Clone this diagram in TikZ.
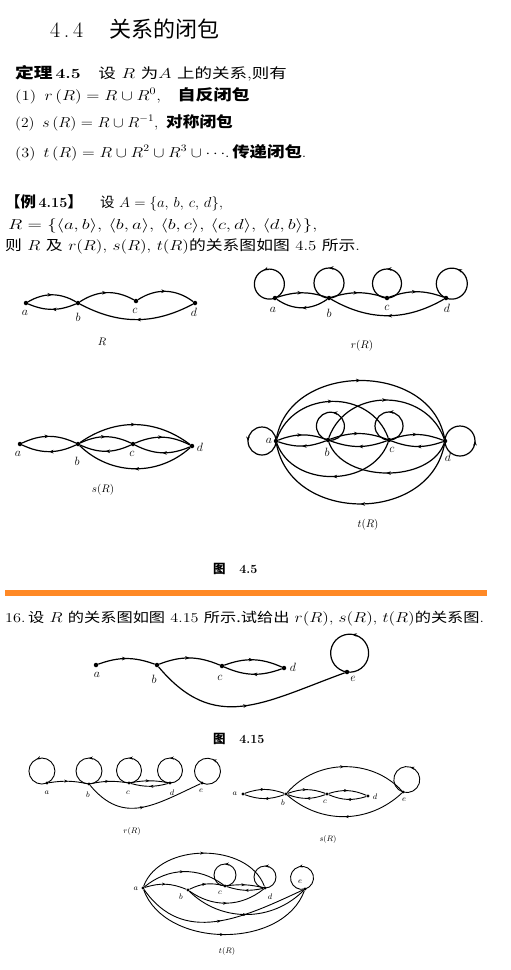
\documentclass[tikz,border=0pt]{standalone}
\usepackage{graphicx}
\usepackage{fontspec}
\newfontfamily\cjk{Noto Sans CJK SC}
\usetikzlibrary{arrows.meta,decorations.markings}
\definecolor{barorange}{RGB}{255,137,38}
\tikzset{
  v/.style={circle,fill,inner sep=0pt,minimum size=4.5pt},
  vs/.style={circle,fill,inner sep=0pt,minimum size=3.2pt},
  e/.style={line width=1.2pt,postaction={decorate},
    decoration={markings,mark=at position 0.5 with {\arrow{Stealth[length=4.5pt,width=3.6pt]}}}},
  es/.style={line width=0.9pt,postaction={decorate},
    decoration={markings,mark=at position 0.5 with {\arrow{Stealth[length=3.8pt,width=3pt]}}}},
  lab/.style={font=\fontsize{12}{12}\selectfont,inner sep=0pt},
  labs/.style={font=\fontsize{8.5}{8.5}\selectfont,inner sep=0pt},
  txt/.style={anchor=base west,inner sep=0pt,font=\fontsize{14}{14}\selectfont},
  capt/.style={inner sep=0pt,font=\fontsize{11}{11}\selectfont},
  capts/.style={inner sep=0pt,font=\fontsize{8.5}{8.5}\selectfont},
}
\newcommand{\bz}[1]{{\cjk\bfseries\fontsize{15}{15}\selectfont #1}}
\begin{document}
\begin{tikzpicture}[x=1pt,y=1pt]
\useasboundingbox (0,0) rectangle (511,-970);
\fill[white] (0,0) rectangle (511,-970);
% ---------- text ----------
\node[anchor=base west,inner sep=0pt,font=\fontsize{22}{22}\selectfont] (title) at (50,-37) {4\,.\,4\hspace{1.2em}{\cjk 关系的闭包}};
\node[txt] (l1) at (15,-78) {\scalebox{1.25}[1]{\bz{定理}\,\textbf{4.5}\hspace{1em}{\cjk 设} $R$ {\cjk 为}$A$ {\cjk 上的关系},{\cjk 则有}}};
\node[txt] (l2) at (15,-100) {\scalebox{1.2}[1]{(1)\, $r\,(R)=R\cup R^{0}$,\hspace{1em}\bz{自反闭包}}};
\node[txt] (l3) at (15,-127) {\scalebox{1.11}[1]{(2)\, $s\,(R)=R\cup R^{-1}$,\hspace{0.5em}\bz{对称闭包}}};
\node[txt] (l4) at (15,-157) {\scalebox{1.16}[1]{(3)\, $t\,(R)=R\cup R^{2}\cup R^{3}\cup\cdots$.\,\bz{传递闭包}.}};
\node[txt] (l5) at (5,-207) {\scalebox{1.03}[1]{\bz{【例}\textbf{\,4.15}\bz{】}\hspace{1.2em}{\cjk 设} $A=\{a,\,b,\,c,\,d\}$,}};
\node[txt] (l6) at (8,-229) {\scalebox{1.31}[1]{$R=\{\langle a,b\rangle,\,\langle b,a\rangle,\,\langle b,c\rangle,\,\langle c,d\rangle,\,\langle d,b\rangle\}$,}};
\node[txt] (l7) at (5,-250) {\scalebox{1.2}[1]{{\cjk 则} $R$ {\cjk 及} $r(R)$, $s(R)$, $t(R)${\cjk 的关系图如图} 4.5 {\cjk 所示}.}};
% ---------- R ----------
\node[v] (Ra) at (26,-303) {};
\node[v] (Rb) at (78,-303) {};
\node[v] (Rc) at (136,-301) {};
\node[v] (Rd) at (195,-303) {};
\node[lab] (Ral) at (25,-313) {$a$};
\node[lab] (Rbl) at (78,-317) {$b$};
\node[lab] (Rcl) at (135,-311) {$c$};
\node[lab] (Rdl) at (194,-312) {$d$};
\draw[e] (Ra) to[bend left=30] (Rb);
\draw[e] (Rb) to[bend left=23] (Ra);
\draw[e] (Rb) to[bend left=31] (Rc);
\draw[e] (Rc) to[bend left=35] (Rd);
\draw[e] (Rd) to[bend left=28] (Rb);
\node[capt] (Rcap) at (102,-342) {$R$};
% ---------- r(R) ----------
\node[v] (ra) at (275,-298) {};
\node[v] (rb) at (329,-298) {};
\node[v] (rc) at (387,-298) {};
\node[v] (rd) at (446,-298) {};
\node[lab] (ral) at (273,-310) {$a$};
\node[lab] (rbl) at (329,-313) {$b$};
\node[lab] (rcl) at (387,-308) {$c$};
\node[lab] (rdl) at (447,-308) {$d$};
\draw[e] (ra) to[bend left=18] (rb);
\draw[e] (rb) to[bend left=35] (ra);
\draw[e] (rb) to[bend left=17] (rc);
\draw[e] (rc) to[bend left=20] (rd);
\draw[e] (rd) to[bend left=30] (rb);
\draw[e] (ra.center) arc[start angle=-68,delta angle=360,radius=15];
\draw[e] (rb.center) arc[start angle=-90,delta angle=360,radius=15];
\draw[e] (rc.center) arc[start angle=-90,delta angle=360,radius=14.5];
\draw[e] (rd.center) arc[start angle=-112,delta angle=360,radius=15.5];
\node[capt] (rcap) at (362,-346) {$r(R)$};
% ---------- s(R) ----------
\node[v] (sa) at (20,-444) {};
\node[v] (sb) at (78,-444) {};
\node[v] (sc) at (133,-444) {};
\node[v] (sd) at (192,-446) {};
\node[lab] (sal) at (18,-454) {$a$};
\node[lab] (sbl) at (77,-461) {$b$};
\node[lab] (scl) at (132,-454) {$c$};
\node[lab] (sdl) at (200,-447) {$d$};
\draw[e] (sa) to[bend left=25] (sb);
\draw[e] (sb) to[bend left=25] (sa);
\draw[e] (sb) to[bend left=25] (sc);
\draw[e] (sc) to[bend left=25] (sb);
\draw[e] (sc) to[bend left=25] (sd);
\draw[e] (sd) to[bend left=25] (sc);
\draw[e] (sb) to[bend left=36] (sd);
\draw[e] (sd) to[bend left=43] (sb);
\node[capt] (scap) at (103,-490) {$s(R)$};
% ---------- t(R) ----------
\node[v] (ta) at (276,-441) {};
\node[v] (tb) at (328,-440) {};
\node[v] (tc) at (389,-440) {};
\node[v] (td) at (445,-441) {};
\node[lab] (tal) at (269,-441) {$a$};
\node[lab] (tbl) at (327,-452) {$b$};
\node[lab] (tcl) at (392,-450) {$c$};
\node[lab] (tdl) at (448,-457) {$d$};
\draw[e] (ta) to[bend left=20] (tb);
\draw[e] (tb) to[bend left=20] (ta);
\draw[e] (tb) to[bend left=20] (tc);
\draw[e] (tc) to[bend left=20] (tb);
\draw[e] (tc) to[bend left=20] (td);
\draw[e] (td) to[bend left=20] (tc);
\draw[e] (ta) to[out=70,in=110,looseness=1.2] (tc);
\draw[e] (tc) to[out=-110,in=-70,looseness=1.1] (ta);
\draw[e] (tb) to[out=70,in=110,looseness=1.2] (td);
\draw[e] (td) to[out=-110,in=-70,looseness=0.95] (tb);
\draw[e] (ta) to[out=80,in=100,looseness=1.2] (td);
\draw[e] (td) to[out=-100,in=-80,looseness=1.25] (ta);
\draw[e] (ta.center) arc[start angle=0,delta angle=360,radius=14];
\draw[e] (tb.center) arc[start angle=-100,delta angle=360,radius=14];
\draw[e] (tc.center) arc[start angle=-90,delta angle=360,radius=14];
\draw[e] (td.center) arc[start angle=180,delta angle=360,radius=15];
\node[capt] (tcap) at (368,-525) {$t(R)$};
% ---------- caption 4.5, bar, problem ----------
\node[anchor=base west,inner sep=0pt,font=\fontsize{12.5}{12.5}\selectfont] (cap45) at (213,-573) {{\cjk\bfseries 图}\hspace{1.1em}\textbf{4.5}};
\fill[barorange] (5,-590) rectangle (487,-596);
\node[anchor=base west,inner sep=0pt,font=\fontsize{13.5}{14}\selectfont] (l16) at (5,-622) {\scalebox{1.2}[1]{16.\,{\cjk 设} $R$ {\cjk 的关系图如图} 4.15 {\cjk 所示.试给出} $r(R)$, $s(R)$, $t(R)${\cjk 的关系图}.}};
% ---------- Fig 4.15 ----------
\node[v] (fa) at (96,-665) {};
\node[v] (fb) at (157,-665) {};
\node[v] (fc) at (222,-666) {};
\node[v] (fd) at (284,-668) {};
\node[v] (fe) at (347,-672) {};
\node[lab] (fal) at (97,-675) {$a$};
\node[lab] (fbl) at (154,-679) {$b$};
\node[lab] (fcl) at (220,-678) {$c$};
\node[lab] (fdl) at (293,-667) {$d$};
\node[lab] (fel) at (353,-679) {$e$};
\draw[e] (fa) to[bend left=20] (fb);
\draw[e] (fb) to[bend left=22] (fc);
\draw[e] (fc) to[bend left=22] (fd);
\draw[e] (fd) to[bend left=22] (fc);
\draw[e] (fb) to[out=-50,in=200,looseness=1.2] (fe);
\draw[e] (fe.center) arc[start angle=-98,delta angle=360,radius=19];
\node[anchor=base west,inner sep=0pt,font=\fontsize{12.5}{12.5}\selectfont] (cap415) at (213,-743) {{\cjk\bfseries 图}\hspace{1.1em}\textbf{4.15}};
% ---------- bottom r(R) ----------
\node[vs] (ba) at (47,-783) {};
\node[vs] (bb) at (89,-784) {};
\node[vs] (bc) at (129,-783) {};
\node[vs] (bd) at (170,-783) {};
\node[vs] (be) at (202,-783) {};
\node[labs] (bal) at (47,-793) {$a$};
\node[labs] (bbl) at (88,-795) {$b$};
\node[labs] (bcl) at (128,-793) {$c$};
\node[labs] (bdl) at (172,-793) {$d$};
\node[labs] (bel) at (201,-791) {$e$};
\draw[es] (ba) to[bend left=10] (bb);
\draw[es] (bb) to[bend left=10] (bc);
\draw[es] (bc) to[bend left=10] (bd);
\draw[es] (bd) to[bend left=15] (bc);
\draw[es] (bb) to[out=-50,in=205,looseness=1.2] (be);
\draw[es] (ba.center) arc[start angle=-67,delta angle=360,radius=13];
\draw[es] (bb.center) arc[start angle=-90,delta angle=360,radius=13];
\draw[es] (bc.center) arc[start angle=-90,delta angle=360,radius=12.5];
\draw[es] (bd.center) arc[start angle=-90,delta angle=360,radius=12.5];
\draw[es] (be.center) arc[start angle=-115,delta angle=360,radius=13];
\node[capts] (bcap) at (132,-831) {$r(R)$};
% ---------- bottom s(R) ----------
\node[vs] (ca) at (243,-794) {};
\node[vs] (cb) at (286,-794) {};
\node[vs] (cc) at (327,-794) {};
\node[vs] (cd) at (368,-796) {};
\node[vs] (ce) at (403,-792) {};
\node[labs] (cal) at (235,-794) {$a$};
\node[labs] (cbl) at (283,-803) {$b$};
\node[labs] (ccl) at (325,-802) {$c$};
\node[labs] (cdl) at (375,-797) {$d$};
\node[labs] (cel) at (404,-800) {$e$};
\draw[es] (ca) to[bend left=20] (cb);
\draw[es] (cb) to[bend left=20] (ca);
\draw[es] (cb) to[bend left=20] (cc);
\draw[es] (cc) to[bend left=20] (cb);
\draw[es] (cc) to[bend left=20] (cd);
\draw[es] (cd) to[bend left=20] (cc);
\draw[es] (cb) to[bend left=48] (ce);
\draw[es] (ce) to[bend left=42] (cb);
\draw[es] (ce.center) arc[start angle=-107,delta angle=360,radius=13];
\node[capts] (ccap) at (328,-839) {$s(R)$};
% ---------- bottom t(R) ----------
\node[vs] (da) at (143,-888) {};
\node[vs] (db) at (188,-890) {};
\node[vs] (dc) at (225,-886) {};
\node[vs] (dd) at (265,-888) {};
\node[vs] (de) at (305,-889) {};
\node[labs] (dal) at (136,-889) {$a$};
\node[labs] (dbl) at (181,-897) {$b$};
\node[labs] (dcl) at (220,-893) {$c$};
\node[labs] (ddl) at (270,-897) {$d$};
\node[labs] (del) at (300,-882) {$e$};
\draw[es] (da) to[out=70,in=110] (dd);
\draw[es] (da) to[bend left=38] (dc);
\draw[es] (da) to[bend left=20] (db);
\draw[es] (db) to[bend left=20] (dc);
\draw[es] (dc) to[bend left=10] (dd);
\draw[es] (dd) to[bend left=15] (dc);
\draw[es] (db) to[bend right=37] (dd);
\draw[es] (db) to[bend right=45] (de);
\draw[es] (da) to[out=-55,in=205,looseness=1.1] (de);
\draw[es] (da) to[out=-70,in=-110] (de);
\draw[es] (dc.center) arc[start angle=-90,delta angle=360,radius=11];
\draw[es] (dd.center) arc[start angle=-90,delta angle=360,radius=11];
\draw[es] (de.center) arc[start angle=-75,delta angle=360,radius=11.5];
\node[capts] (dcap) at (227,-951) {$t(R)$};
\end{tikzpicture}
\end{document}
